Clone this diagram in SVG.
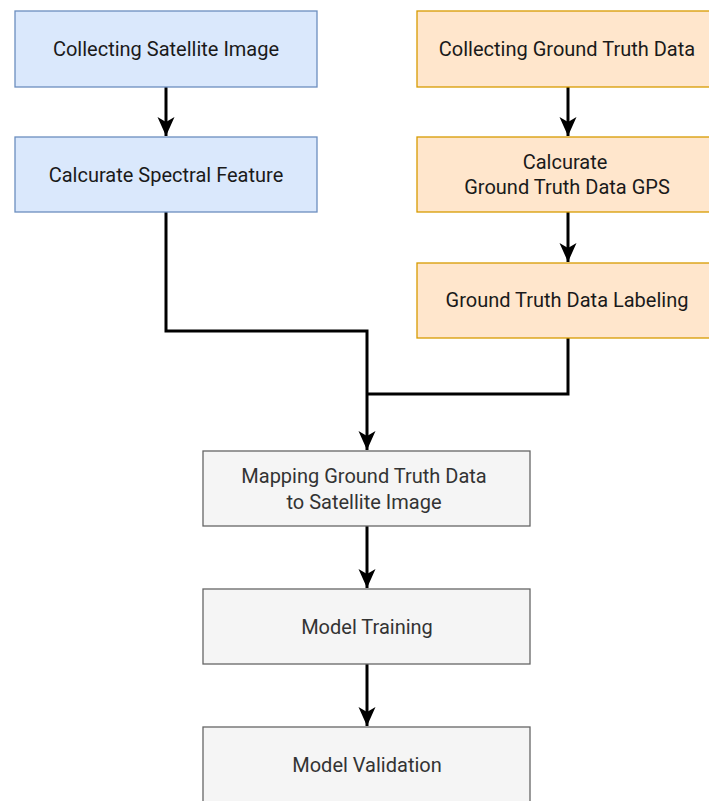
<svg xmlns="http://www.w3.org/2000/svg" width="709" height="801" viewBox="0 0 709 801">
  <style>
    .blue rect { fill: #dae8fc; stroke: #6c8ebf; stroke-width: 1.3; }
    .orange rect { fill: #ffe6cc; stroke: #d79b00; stroke-width: 1.3; }
    .grey rect { fill: #f5f5f5; stroke: #666666; stroke-width: 1.3; }
    text { font-family: Roboto, "Liberation Sans", sans-serif; font-size: 20px; text-anchor: middle; dominant-baseline: central; }
    .blue text, .orange text { fill: #1a1a1a; }
    .grey text { fill: #333333; }
    .edge { fill: none; stroke: #000000; stroke-width: 3; }
  </style>
  <defs>
    <!-- filled classic arrowhead with a notched back -->
    <marker id="arrow" markerUnits="userSpaceOnUse" markerWidth="19" markerHeight="18" refX="19" refY="9" orient="auto" viewBox="0 0 19 18">
      <path d="M0,0.5 L19,9 L0,17.5 L5,9 Z" fill="#000000"/>
    </marker>
  </defs>

  <rect width="709" height="801" fill="#ffffff"/>

  <g id="connectors">
    <path class="edge" d="M166,87 V136" marker-end="url(#arrow)"/>
    <path class="edge" d="M568,87 V136" marker-end="url(#arrow)"/>
    <path class="edge" d="M568,212 V262" marker-end="url(#arrow)"/>
    <path class="edge" d="M166,212 V331 H367 V450" marker-end="url(#arrow)"/>
    <path class="edge" d="M568,338 V394 H367"/>
    <path class="edge" d="M367,526 V588" marker-end="url(#arrow)"/>
    <path class="edge" d="M367,664 V726" marker-end="url(#arrow)"/>
  </g>

  <g id="collect-satellite" class="blue">
    <rect x="15" y="11" width="302" height="76"/>
    <text x="166" y="49">Collecting Satellite Image</text>
  </g>
  <g id="spectral-feature" class="blue">
    <rect x="15" y="137" width="302" height="75"/>
    <text x="166" y="175">Calcurate Spectral Feature</text>
  </g>

  <g id="collect-ground-truth" class="orange">
    <rect x="417" y="11" width="302" height="76"/>
    <text x="567" y="49">Collecting Ground Truth Data</text>
  </g>
  <g id="ground-truth-gps" class="orange">
    <rect x="417" y="137" width="302" height="75"/>
    <text x="565" y="162">Calcurate</text>
    <text x="567" y="187">Ground Truth Data GPS</text>
  </g>
  <g id="ground-truth-labeling" class="orange">
    <rect x="417" y="263" width="302" height="75"/>
    <text x="567" y="300">Ground Truth Data Labeling</text>
  </g>

  <g id="mapping" class="grey">
    <rect x="203" y="451" width="327" height="75"/>
    <text x="364" y="476">Mapping Ground Truth Data</text>
    <text x="364" y="502">to Satellite Image</text>
  </g>
  <g id="model-training" class="grey">
    <rect x="203" y="589" width="327" height="75"/>
    <text x="367" y="627">Model Training</text>
  </g>
  <g id="model-validation" class="grey">
    <rect x="203" y="727" width="327" height="76"/>
    <text x="367" y="765">Model Validation</text>
  </g>
</svg>
